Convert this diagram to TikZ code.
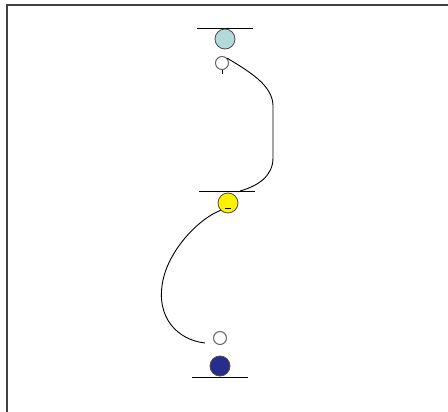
\documentclass[tikz,border=0pt]{standalone}
\begin{document}
\begin{tikzpicture}[x=1pt,y=-1pt,
  ball/.style={circle,draw=black!70,line width=0.8pt,minimum size=20pt,inner sep=0pt},
  ring/.style={circle,draw=black!60,line width=1pt,fill=white,minimum size=13pt,inner sep=0pt},
  bar/.style={line width=0.9pt},
  wire/.style={line width=0.9pt}]
\useasboundingbox (0,0) rectangle (448,412);
\draw[line width=1.6pt,black!75] (7,412) -- (7,5) -- (448,5);
% top
\coordinate (t1) at (197,28); \coordinate (t2) at (253,28);
\draw[bar] (t1) -- (t2);
\node[ball,fill={rgb,255:red,178;green,218;blue,221}] (b1) at (225,39) {};
\node[ring] (r1) at (222,63) {};
\coordinate (tk) at (222,74);
\draw[line width=0.8pt] (r1.south) -- (tk);
% middle
\coordinate (m1) at (199,191); \coordinate (m2) at (255,191);
\draw[bar] (m1) -- (m2);
\node[ball,fill={rgb,255:red,255;green,242;blue,0}] (b2) at (228,203) {};
\coordinate (d1) at (225,209); \coordinate (d2) at (231,209);
\draw[line width=1pt] (d1) -- (d2);
% bottom
\node[ring] (r2) at (220,338) {};
\node[ball,fill={rgb,255:red,40;green,44;blue,140}] (b3) at (220,366) {};
\coordinate (u1) at (192,377); \coordinate (u2) at (248,377);
\draw[bar] (u1) -- (u2);
% wires
\coordinate (ue) at (240,191);
\draw[wire] (r1.north east) .. controls (250,72) and (272,85) .. (273,105)
  -- (273,158) .. controls (273,176) and (258,186) .. (ue);
\coordinate (le) at (205,343);
\draw[wire] (b2.south west) .. controls (200,218) and (170,248) .. (163,280)
  .. controls (155,318) and (178,340) .. (le);
\end{tikzpicture}
\end{document}
